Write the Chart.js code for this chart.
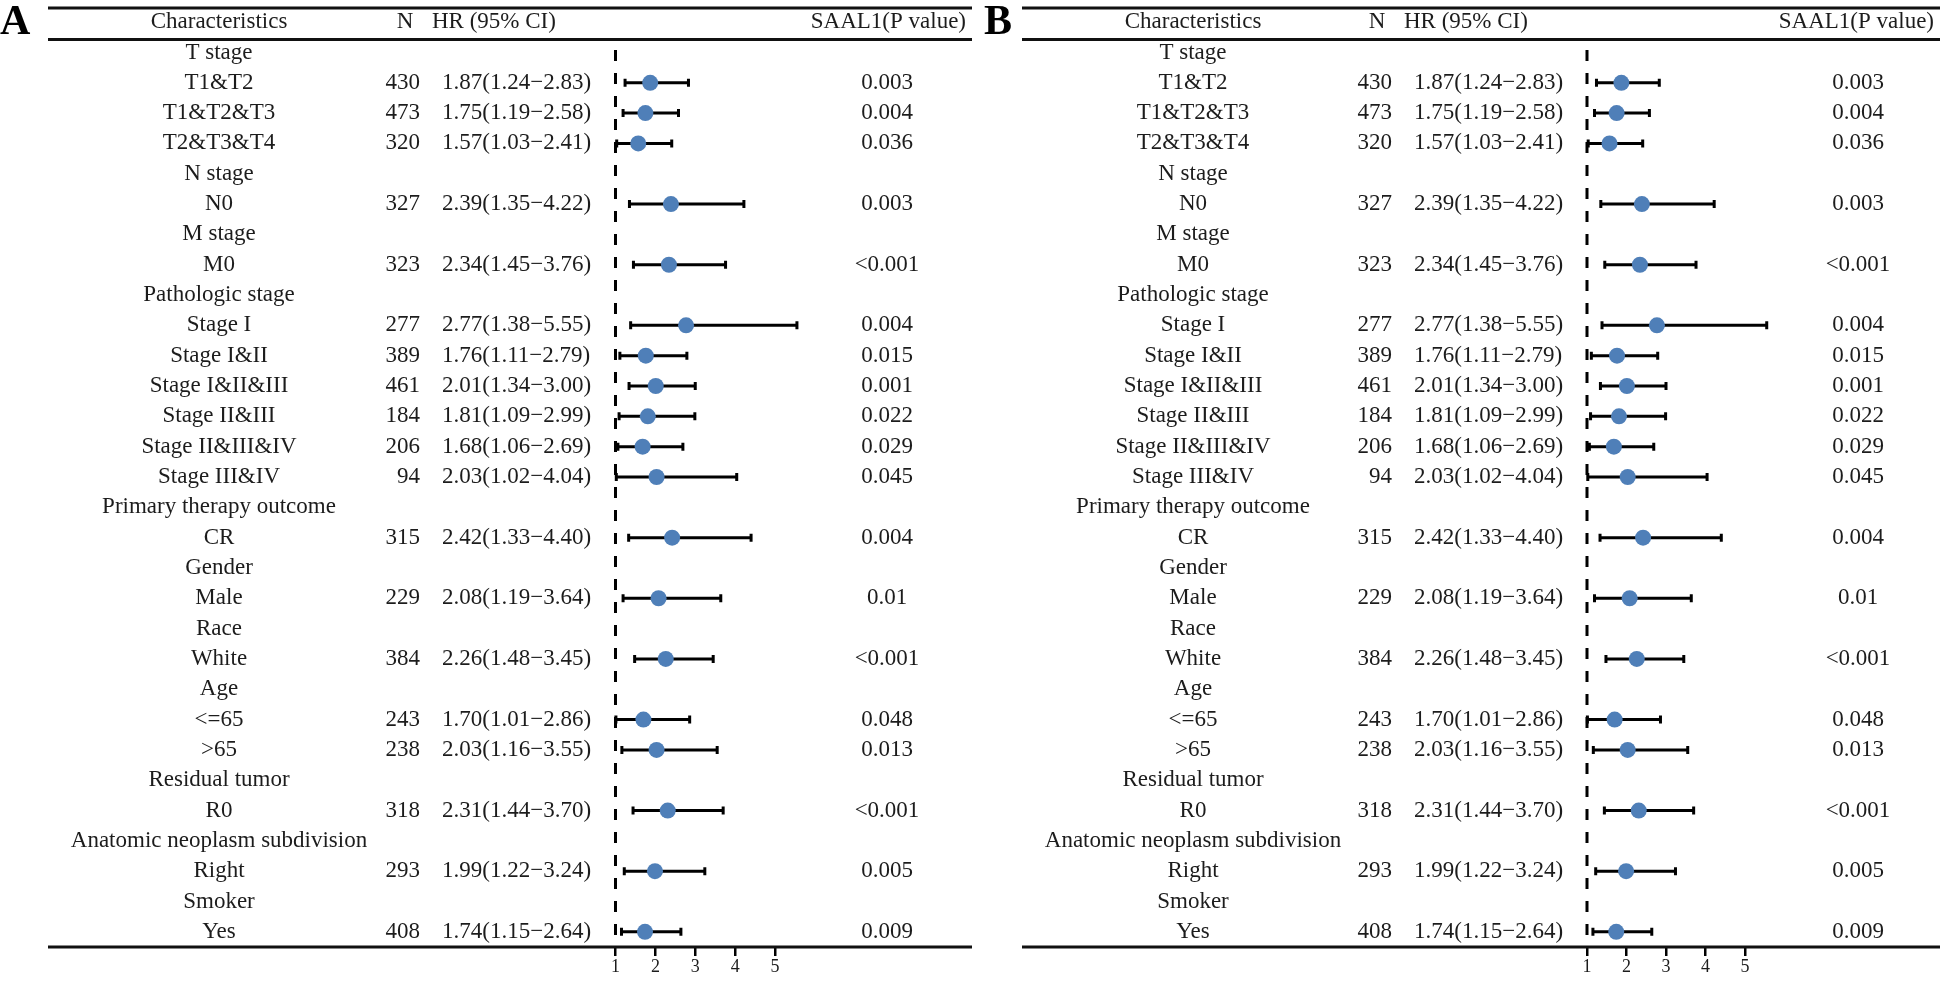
<!DOCTYPE html>
<html>
<head>
<meta charset="utf-8">
<script src="https://cdn.jsdelivr.net/npm/chart.js@4/dist/chart.umd.min.js"></script>
<style>
  body { margin: 0; background: #fff; }
  canvas { position: absolute; top: 0; }
  #chartA { left: 0; }
  #chartB { left: 972px; }
</style>
</head>
<body>
<canvas id="chartA" width="980" height="981"></canvas>
<canvas id="chartB" width="972" height="981"></canvas>
<script>
// Subgroups (rows), in order from top to bottom
const rows = ['T stage', 'T1&T2', 'T1&T2&T3', 'T2&T3&T4', 'N stage', 'N0', 'M stage', 'M0',
  'Pathologic stage', 'Stage I', 'Stage I&II', 'Stage I&II&III', 'Stage II&III', 'Stage II&III&IV',
  'Stage III&IV', 'Primary therapy outcome', 'CR', 'Gender', 'Male', 'Race', 'White', 'Age',
  '<=65', '>65', 'Residual tumor', 'R0', 'Anatomic neoplasm subdivision', 'Right', 'Smoker', 'Yes'];
const nCount = [null, 430, 473, 320, null, 327, null, 323, null, 277, 389, 461, 184, 206, 94,
  null, 315, null, 229, null, 384, null, 243, 238, null, 318, null, 293, null, 408];
const hr = [null, 1.87, 1.75, 1.57, null, 2.39, null, 2.34, null, 2.77, 1.76, 2.01, 1.81, 1.68, 2.03,
  null, 2.42, null, 2.08, null, 2.26, null, 1.70, 2.03, null, 2.31, null, 1.99, null, 1.74];
const ciLow = [null, 1.24, 1.19, 1.03, null, 1.35, null, 1.45, null, 1.38, 1.11, 1.34, 1.09, 1.06, 1.02,
  null, 1.33, null, 1.19, null, 1.48, null, 1.01, 1.16, null, 1.44, null, 1.22, null, 1.15];
const ciHigh = [null, 2.83, 2.58, 2.41, null, 4.22, null, 3.76, null, 5.55, 2.79, 3.00, 2.99, 2.69, 4.04,
  null, 4.40, null, 3.64, null, 3.45, null, 2.86, 3.55, null, 3.70, null, 3.24, null, 2.64];
const pValues = ['', '0.003', '0.004', '0.036', '', '0.003', '', '<0.001', '', '0.004', '0.015', '0.001',
  '0.022', '0.029', '0.045', '', '0.004', '', '0.01', '', '<0.001', '', '0.048', '0.013', '',
  '<0.001', '', '0.005', '', '0.009'];
const xTicks = [1, 2, 3, 4, 5];

const FONT = "'Liberation Serif', 'Times New Roman', serif";
const INK = '#1c1c1c';
const DOT = '#4f7fb8';

function hrText(i) {
  return hr[i].toFixed(2) + '(' + ciLow[i].toFixed(2) + '\u2212' + ciHigh[i].toFixed(2) + ')';
}

// draws the table text, rules, reference line and CI whiskers
const forestTable = {
  id: 'forestTable',
  beforeDatasetsDraw(chart, args, o) {
    const { ctx } = chart;
    const x = chart.scales.x, y = chart.scales.y;
    ctx.save();

    // rules
    ctx.strokeStyle = '#111';
    ctx.lineWidth = 3;
    [o.topLine, o.headLine, o.bottomLine].forEach(yy => {
      ctx.beginPath();
      ctx.moveTo(o.lineStart, yy);
      ctx.lineTo(o.lineEnd, yy);
      ctx.stroke();
    });

    // panel letter
    ctx.fillStyle = '#000';
    ctx.font = 'bold 42px ' + FONT;
    ctx.textAlign = 'left';
    ctx.textBaseline = 'middle';
    ctx.fillText(o.letter, o.letterX, 23);

    // header
    ctx.fillStyle = INK;
    ctx.font = '23px ' + FONT;
    const hy = y.getPixelForValue(-1);
    ctx.textAlign = 'center';
    ctx.fillText('Characteristics', o.labelX, hy);
    ctx.fillText('N', o.nX - 15, hy);
    ctx.textAlign = 'left';
    ctx.fillText('HR (95% CI)', o.hrX - 10, hy);
    ctx.textAlign = 'right';
    ctx.fillText('SAAL1(P value)', o.lineEnd - 6, hy);

    // rows
    rows.forEach((label, i) => {
      const yy = y.getPixelForValue(i);
      ctx.textAlign = 'center';
      ctx.fillText(label, o.labelX, yy);
      if (nCount[i] !== null) {
        ctx.textAlign = 'right';
        ctx.fillText(String(nCount[i]), o.nX, yy);
        ctx.textAlign = 'left';
        ctx.fillText(hrText(i), o.hrX, yy);
        ctx.textAlign = 'center';
        ctx.fillText(pValues[i], o.pX, yy);
      }
    });

    // reference line at HR = 1
    const x1 = x.getPixelForValue(1);
    ctx.strokeStyle = '#000';
    ctx.lineWidth = 3;
    ctx.setLineDash([11, 12]);
    ctx.beginPath();
    ctx.moveTo(x1, 50);
    ctx.lineTo(x1, o.bottomLine);
    ctx.stroke();
    ctx.setLineDash([]);

    // confidence intervals
    ctx.lineWidth = 3;
    rows.forEach((label, i) => {
      if (hr[i] === null) return;
      const yy = y.getPixelForValue(i);
      const a = x.getPixelForValue(ciLow[i]), b = x.getPixelForValue(ciHigh[i]);
      ctx.beginPath();
      ctx.moveTo(a, yy);
      ctx.lineTo(b, yy);
      ctx.moveTo(a, yy - 4);
      ctx.lineTo(a, yy + 4);
      ctx.moveTo(b, yy - 4);
      ctx.lineTo(b, yy + 4);
      ctx.stroke();
    });
    ctx.restore();
  }
};

function makePanel(id, opts) {
  const points = [];
  rows.forEach((r, i) => { if (hr[i] !== null) points.push({ x: hr[i], y: i }); });
  return new Chart(document.getElementById(id), {
    type: 'scatter',
    data: {
      datasets: [{
        data: points,
        pointRadius: 8,
        pointBackgroundColor: DOT,
        pointBorderWidth: 0,
        clip: false
      }]
    },
    options: {
      responsive: false,
      animation: false,
      layout: { padding: { left: opts.plotLeft, right: opts.plotRight, top: 37.3, bottom: 0 } },
      plugins: { legend: { display: false }, tooltip: { enabled: false }, forestTable: opts },
      scales: {
        x: {
          type: 'linear', min: 1, max: 5,
          afterBuildTicks: s => { s.ticks = xTicks.map(v => ({ value: v })); },
          afterFit: s => { s.height = 981 - opts.bottomLine; },
          border: { display: false },
          grid: { drawOnChartArea: false, color: '#000', lineWidth: 2.5, tickLength: 9, tickWidth: 2.5 },
          ticks: { color: INK, font: { family: FONT, size: 18 }, padding: 0, maxRotation: 0 }
        },
        y: { type: 'linear', reverse: true, min: -0.5, max: 29.5, display: false }
      }
    },
    plugins: [forestTable]
  });
}

makePanel('chartA', {
  letter: 'A', letterX: 0, plotLeft: 615.5, plotRight: 980 - 775,
  lineStart: 48, lineEnd: 972, topLine: 8, headLine: 39.5, bottomLine: 947,
  labelX: 219, nX: 420, hrX: 442, pX: 887
});
makePanel('chartB', {
  letter: 'B', letterX: 12, plotLeft: 615, plotRight: 972 - 773,
  lineStart: 50, lineEnd: 968, topLine: 8, headLine: 39.5, bottomLine: 947,
  labelX: 221, nX: 420, hrX: 442, pX: 886
});
</script>
</body>
</html>
